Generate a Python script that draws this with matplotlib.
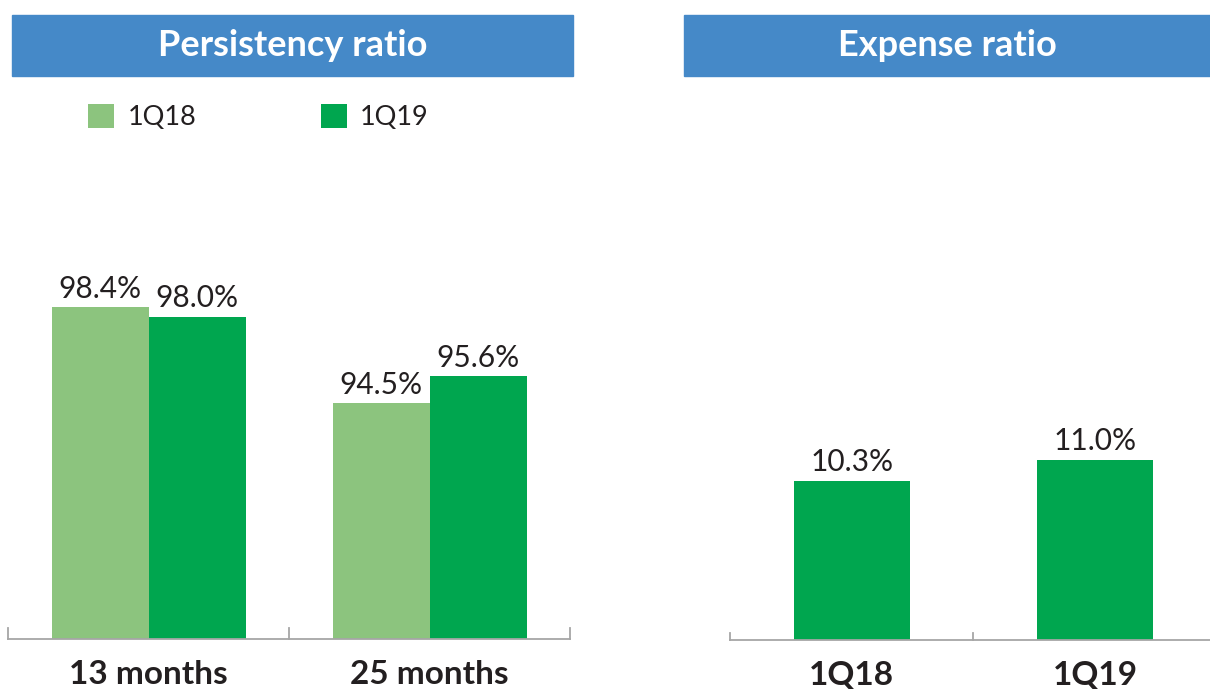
import matplotlib.pyplot as plt
import numpy as np
from matplotlib.patches import Rectangle

plt.rcParams['font.family'] = ['Lato', 'DejaVu Sans']

# persistency ratio (%)
persist_cats = ['13 months', '25 months']
persist_1q18 = [98.4, 94.5]
persist_1q19 = [98.0, 95.6]

# expense ratio (%)
expense_cats = ['1Q18', '1Q19']
expense_vals = [10.3, 11.0]

light_green = '#8cc47e'
dark_green = '#00a64f'
header_blue = '#4589c8'
axis_grey = '#a6a6a6'
text_col = '#231f20'

W, H = 1210, 689
fig = plt.figure(figsize=(W / 100, H / 100), dpi=100)


def px_axes(x0, x1, y_top, y_bot):
    return fig.add_axes([x0 / W, 1 - y_bot / H, (x1 - x0) / W, (y_bot - y_top) / H])


def style(ax):
    for s in ['top', 'right', 'left']:
        ax.spines[s].set_visible(False)
    ax.spines['bottom'].set_color(axis_grey)
    ax.spines['bottom'].set_linewidth(1.3)
    ax.set_yticks([])
    ax.tick_params(axis='x', length=0, pad=15, labelsize=24, labelcolor=text_col)
    for lbl in ax.get_xticklabels():
        lbl.set_fontweight('bold')
    # category separators
    lo, hi = ax.get_xlim()
    for xb in np.arange(lo, hi + 0.01, 1.0):
        ax.plot([xb, xb], [0, 0.03], transform=ax.get_xaxis_transform(),
                color=axis_grey, lw=1.3, clip_on=False)


def header(x0, x1, title):
    fig.patches.append(Rectangle((x0 / W, 1 - 76 / H), (x1 - x0) / W, 61 / H,
                                 transform=fig.transFigure, color=header_blue))
    fig.text((x0 + x1) / 2 / W, 1 - 46 / H, title, color='white', fontsize=26,
             fontweight='bold', ha='center', va='center')


# left panel
ax1 = px_axes(8.3, 570.3, 267, 639)
x = np.arange(len(persist_cats))
bw = 0.345
b1 = ax1.bar(x - bw / 2, persist_1q18, bw, color=light_green, label='1Q18')
b2 = ax1.bar(x + bw / 2, persist_1q19, bw, color=dark_green, label='1Q19')
ax1.set_xlim(-0.5, 1.5)
ax1.set_ylim(85, 100)
ax1.set_xticks(x, persist_cats)
for b in (b1, b2):
    ax1.bar_label(b, fmt='%.1f%%', padding=3, fontsize=21.5, color=text_col)
style(ax1)
ax1.legend(loc='upper left', bbox_to_anchor=(64 / W, 1 - 80 / H),
           bbox_transform=fig.transFigure, ncol=2, frameon=False, fontsize=19.5,
           handlelength=0.95, handleheight=0.95, handletextpad=0.5,
           columnspacing=4.6, labelcolor=text_col)
header(12, 573, 'Persistency ratio')

# right panel
ax2 = px_axes(730, 1216.6, 429.5, 639.5)
x2 = np.arange(len(expense_cats))
b3 = ax2.bar(x2, expense_vals, 0.477, color=dark_green)
ax2.set_xlim(-0.5, 1.5)
ax2.set_ylim(5, 12)
ax2.set_xticks(x2, expense_cats)
ax2.bar_label(b3, fmt='%.1f%%', padding=3, fontsize=21.5, color=text_col)
style(ax2)
header(684, 1210, 'Expense ratio')

fig.savefig('out.png', dpi=100)
